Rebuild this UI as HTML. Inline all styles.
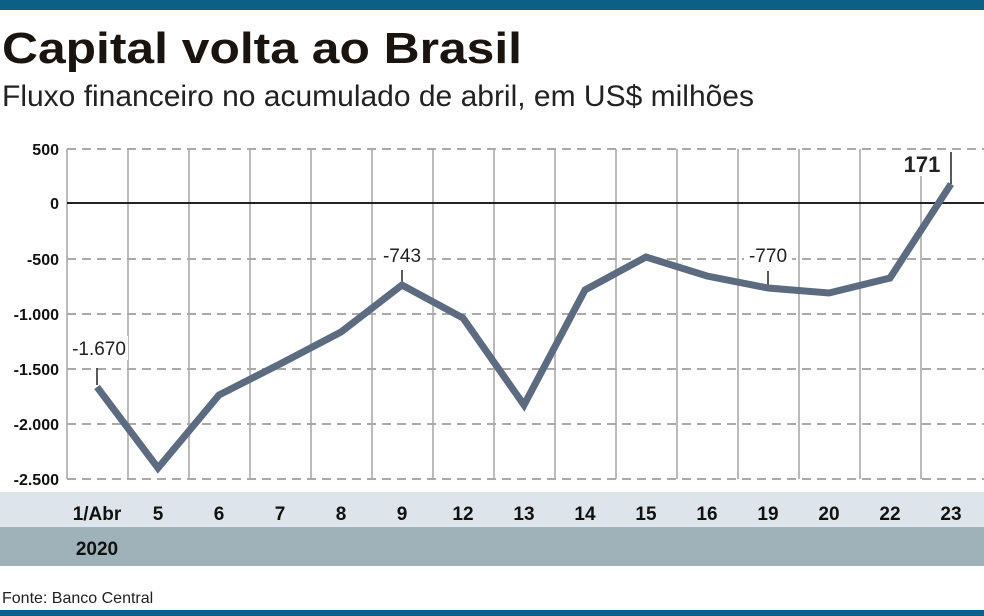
<!DOCTYPE html>
<html><head><meta charset="utf-8"><style>
body{margin:0;width:984px;height:616px;background:#fff;overflow:hidden;position:relative;font-family:"Liberation Sans",sans-serif}
</style></head><body>
<svg width="984" height="616" style="position:absolute;left:0;top:0" font-family="Liberation Sans, sans-serif">
<rect x="0" y="0" width="984" height="10" fill="#0d5f86"/>
<rect x="0" y="610" width="984" height="6" fill="#0d5f86"/>
<text x="2" y="63" font-size="44" font-weight="bold" fill="#1a1410" textLength="520" lengthAdjust="spacingAndGlyphs">Capital volta ao Brasil</text>
<text x="2" y="106" font-size="30" fill="#222" textLength="752" lengthAdjust="spacingAndGlyphs">Fluxo financeiro no acumulado de abril, em US$ milhões</text>
<g stroke="#bbb" stroke-width="2">
<line x1="67" y1="149" x2="67" y2="479"/><line x1="128" y1="149" x2="128" y2="479"/><line x1="189" y1="149" x2="189" y2="479"/><line x1="250" y1="149" x2="250" y2="479"/><line x1="311" y1="149" x2="311" y2="479"/><line x1="372" y1="149" x2="372" y2="479"/><line x1="433" y1="149" x2="433" y2="479"/><line x1="494" y1="149" x2="494" y2="479"/><line x1="555" y1="149" x2="555" y2="479"/><line x1="616" y1="149" x2="616" y2="479"/><line x1="677" y1="149" x2="677" y2="479"/><line x1="738" y1="149" x2="738" y2="479"/><line x1="799" y1="149" x2="799" y2="479"/><line x1="860" y1="149" x2="860" y2="479"/><line x1="921" y1="149" x2="921" y2="479"/>
</g>
<g stroke="#aaa" stroke-width="2" stroke-dasharray="9,6">
<line x1="67" y1="149" x2="984" y2="149"/><line x1="67" y1="259" x2="984" y2="259"/><line x1="67" y1="314" x2="984" y2="314"/><line x1="67" y1="369" x2="984" y2="369"/><line x1="67" y1="424" x2="984" y2="424"/><line x1="67" y1="479" x2="984" y2="479"/>
</g>
<line x1="67" y1="203" x2="984" y2="203" stroke="#222" stroke-width="2"/>
<g font-size="16" font-weight="bold" fill="#111" text-anchor="end">
<text x="59" y="155">500</text><text x="59" y="209">0</text><text x="59" y="265">-500</text><text x="59" y="320">-1.000</text><text x="59" y="375">-1.500</text><text x="59" y="430">-2.000</text><text x="59" y="485">-2.500</text>
</g>
<rect x="0" y="492" width="984" height="35" fill="#dde4ea"/>
<rect x="0" y="527" width="984" height="39" fill="#9fb1b9"/>
<g font-size="19" font-weight="bold" fill="#111" text-anchor="middle">
<text x="97" y="520">1/Abr</text><text x="158" y="520">5</text><text x="219" y="520">6</text><text x="280" y="520">7</text><text x="341" y="520">8</text><text x="402" y="520">9</text><text x="463" y="520">12</text><text x="524" y="520">13</text><text x="585" y="520">14</text><text x="646" y="520">15</text><text x="707" y="520">16</text><text x="768" y="520">19</text><text x="829" y="520">20</text><text x="890" y="520">22</text><text x="951" y="520">23</text>
<text x="97" y="555">2020</text>
</g>
<text x="2" y="603" font-size="16" fill="#222">Fonte: Banco Central</text>
<g stroke="#222" stroke-width="1.5">
<line x1="97" y1="368" x2="97" y2="385"/><line x1="402" y1="270" x2="402" y2="284"/><line x1="768" y1="271" x2="768" y2="288"/><line x1="951" y1="152" x2="951" y2="184"/>
</g>
<g font-size="19" fill="#222" text-anchor="middle">
<rect x="68" y="336" width="60" height="24" fill="#fff"/><text x="99" y="355">-1.670</text>
<rect x="378" y="244" width="48" height="22" fill="#fff"/><text x="402" y="262">-743</text>
<rect x="744" y="244" width="48" height="22" fill="#fff"/><text x="768" y="262">-770</text>
<rect x="900" y="150" width="44" height="26" fill="#fff"/><text x="922" y="172" font-weight="bold" font-size="22">171</text>
</g>
<polyline fill="none" stroke="#5d6b80" stroke-width="7" stroke-linejoin="miter" points="97,387 158,468 219,395 280,364 341,332 402,285 463,318 524,405 585,290 646,257 707,276 768,288 829,293 890,278 951,184"/>
</svg>
</body></html>
